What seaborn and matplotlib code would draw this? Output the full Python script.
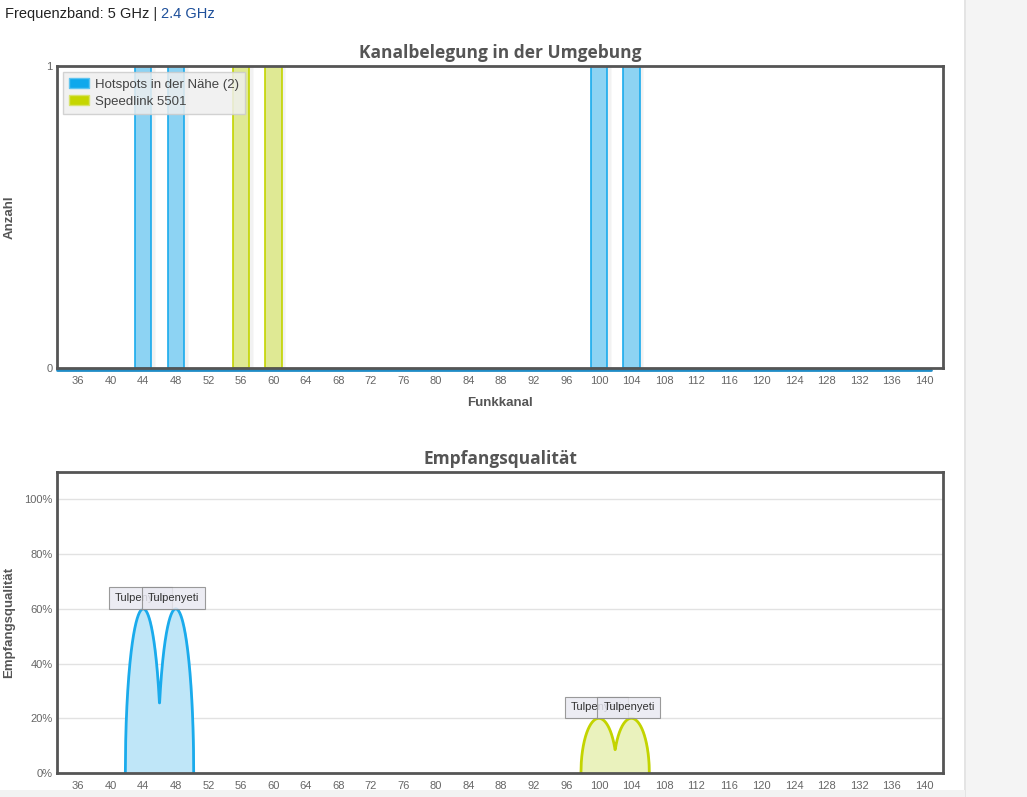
import numpy as np
import pandas as pd
import matplotlib
matplotlib.use("Agg")
import matplotlib.pyplot as plt
from matplotlib.patches import Patch, Rectangle
import seaborn as sns

# channel axis
kanal_ticks = list(range(36, 141, 4))

# top chart: channel occupancy
belegung_kanal = [44, 48, 100, 104, 56, 60]
belegung_anzahl = [1, 1, 1, 1, 1, 1]
belegung_netz = ["Hotspots in der Nähe (2)"] * 4 + ["Speedlink 5501"] * 2

# bottom chart: reception quality
qual_netz_a_kanal = [44, 48]
qual_netz_a_wert = [60, 60]
qual_netz_b_kanal = [100, 104]
qual_netz_b_wert = [20, 20]
qual_label = "Tulpenyeti"
qual_ticks = [0, 20, 40, 60, 80, 100]

BLUE = "#1aabec"
BLUE_FILL = "#8dd3f3"
GREEN = "#c3d400"
GREEN_FILL = "#dfe994"
GRID = "#e2e2e2"
TXT = "#666666"
HEAD = "#555555"

sns.set_theme(style="white")
plt.rcParams["font.family"] = ["Liberation Sans", "DejaVu Sans"]

fig = plt.figure(figsize=(10.27, 7.97), dpi=100)

# page decoration
fig.patches.append(Rectangle((965 / 1027, 0), 62 / 1027, 1, transform=fig.transFigure,
                             facecolor="#f4f4f4", edgecolor="none", zorder=0))
fig.patches.append(Rectangle((964 / 1027, 0), 2 / 1027, 1, transform=fig.transFigure,
                             facecolor="#e4e4e4", edgecolor="none", zorder=0))
fig.patches.append(Rectangle((0, 0), 965 / 1027, 7 / 797, transform=fig.transFigure,
                             facecolor="#f2f2f2", edgecolor="none", zorder=0))

t1 = fig.text(5 / 1027, 1 - 14 / 797, "Frequenzband: 5 GHz | ", fontsize=10.5,
              color="#222222", va="center", ha="left")
fig.canvas.draw()
bb = t1.get_window_extent()
fig.text(bb.x1 / 1027, 1 - 14 / 797, "2.4 GHz", fontsize=10.5, color="#1d4f9a",
         va="center", ha="left")

XMIN, XMAX = 33.4, 142.3


def style_axes(ax):
    for s in ax.spines.values():
        s.set_color("#555555")
        s.set_linewidth(2)
        s.set_zorder(6)
    ax.set_xlim(XMIN, XMAX)
    ax.set_xticks(kanal_ticks)
    ax.set_xticklabels([str(k) for k in kanal_ticks])
    ax.tick_params(axis="both", length=0, labelsize=8, labelcolor=TXT, pad=6)


# ---------- top chart ----------
ax1 = fig.add_axes([57 / 1027, 1 - 368 / 797, 886 / 1027, 302 / 797])
df = pd.DataFrame({"kanal": belegung_kanal, "anzahl": belegung_anzahl, "netz": belegung_netz})

# soft shadow behind bars
ax1.bar(np.array(belegung_kanal) + 0.45, belegung_anzahl, width=2.0, color="#000000",
        alpha=0.05, zorder=1)
for netz, edge, fill in [("Hotspots in der Nähe (2)", BLUE, BLUE_FILL),
                         ("Speedlink 5501", GREEN, GREEN_FILL)]:
    sub = df[df["netz"] == netz]
    sns.barplot(data=sub, x="kanal", y="anzahl", native_scale=True, width=0.5,
                color=fill, edgecolor=edge, linewidth=1.2, saturation=1, ax=ax1, zorder=2)

ax1.plot([XMIN, 140.8], [-0.007, -0.007], color="#1f8cc6", lw=2, clip_on=False, zorder=5)
style_axes(ax1)
ax1.set_ylim(0, 1)
ax1.set_yticks([0, 1])
ax1.tick_params(axis="y", pad=3)
ax1.set_title("Kanalbelegung in der Umgebung", fontsize=12.5, fontweight="bold",
              color=HEAD, family="Open Sans", pad=6)
ax1.set_xlabel("Funkkanal", fontsize=9.5, fontweight="bold", color=HEAD, labelpad=8)
ax1.set_ylabel("Anzahl", fontsize=9.5, fontweight="bold", color=HEAD)
ax1.yaxis.set_label_coords(-0.047, 0.5)

handles = [Patch(facecolor="#0fa8ec", edgecolor="#5fc4f0", label="Hotspots in der Nähe (2)"),
           Patch(facecolor="#c5d600", edgecolor="#d8e36a", label="Speedlink 5501")]
leg = ax1.legend(handles=handles, loc="upper left", bbox_to_anchor=(0.007, 0.98),
                 borderaxespad=0, fontsize=9.5, frameon=True, fancybox=False,
                 handlelength=1.5, handleheight=0.8, borderpad=0.45, labelspacing=0.35,
                 handletextpad=0.45)
leg.get_frame().set_facecolor("#efefef")
leg.get_frame().set_alpha(0.85)
leg.get_frame().set_edgecolor("#cccccc")
for t in leg.get_texts():
    t.set_color("#444444")

# ---------- bottom chart ----------
ax2 = fig.add_axes([57 / 1027, 1 - 773 / 797, 886 / 1027, 301 / 797])
HALF = 2.2


def arc_frame(kanaele, werte):
    xs = np.linspace(min(kanaele) - HALF, max(kanaele) + HALF, 400)
    ys = np.zeros_like(xs)
    for c, q in zip(kanaele, werte):
        r = 1 - ((xs - c) / HALF) ** 2
        ys = np.maximum(ys, q * np.sqrt(np.clip(r, 0, None)))
    return pd.DataFrame({"kanal": xs, "wert": ys})


for kan, wer, col, fill in [(qual_netz_a_kanal, qual_netz_a_wert, BLUE, "#bfe6f8"),
                            (qual_netz_b_kanal, qual_netz_b_wert, GREEN, "#eaf2bd")]:
    d = arc_frame(kan, wer)
    ax2.fill_between(d["kanal"], 0, d["wert"], color=fill, zorder=2)
    sns.lineplot(data=d, x="kanal", y="wert", color=col, lw=2, ax=ax2, zorder=3)
    for c, q in zip(kan, wer):
        ax2.annotate(qual_label, (c - 0.3, q), xytext=(0, 4.2), textcoords="offset points",
                     ha="center", va="bottom", fontsize=8, color="#333333", zorder=4,
                     bbox=dict(boxstyle="square,pad=0.52", facecolor="#e9e9f1",
                               edgecolor="#8a8a8a", lw=0.8, alpha=0.85))

style_axes(ax2)
ax2.set_ylim(0, 110)
ax2.set_yticks(qual_ticks)
ax2.set_yticklabels([f"{v}%" for v in qual_ticks])
ax2.tick_params(axis="y", pad=3)
for v in qual_ticks[1:]:
    ax2.axhline(v, color=GRID, lw=1, zorder=1)
ax2.set_xlabel("")
ax2.set_title("Empfangsqualität", fontsize=12.5, fontweight="bold", color=HEAD,
              family="Open Sans", pad=6)
ax2.set_ylabel("Empfangsqualität", fontsize=9.5, fontweight="bold", color=HEAD)
ax2.yaxis.set_label_coords(-0.047, 0.5)

fig.savefig("out.png", dpi=100)
